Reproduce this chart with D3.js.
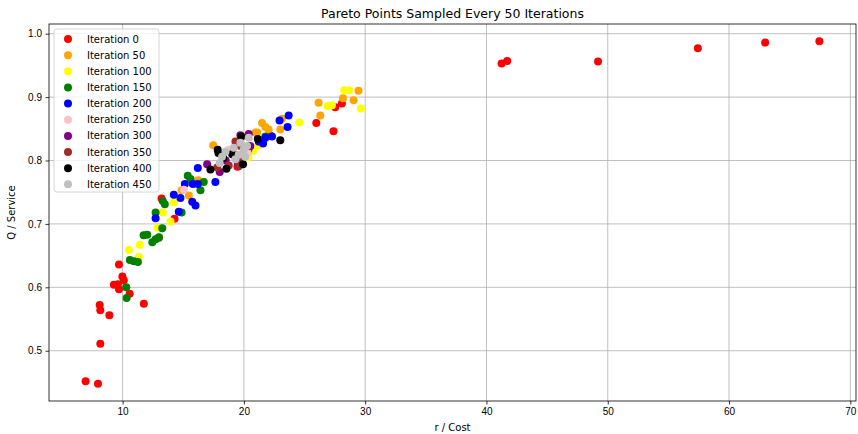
<!DOCTYPE html>
<html>
<head>
<meta charset="utf-8">
<script src="https://cdn.jsdelivr.net/npm/d3@7"></script>
<style>
	html, body { margin: 0; padding: 0; background: #fff; }
	svg { display: block; font-family: "DejaVu Sans", sans-serif; }
	.grid line { stroke: #b0b0b0; stroke-width: 0.8; }
	.axis text { font-size: 10px; fill: #000; }
	.axis line { stroke: #000; stroke-width: 0.8; }
	.axis path { display: none; }
</style>
</head>
<body>
<svg id="chart-1" width="858" height="434"></svg>
<script>
// Pareto points (cost, service) sampled every 50 iterations
const iterations = ['Iteration 0','Iteration 50','Iteration 100','Iteration 150','Iteration 200',
	'Iteration 250','Iteration 300','Iteration 350','Iteration 400','Iteration 450'];

const iter0 = [
	[6.95,0.452],[7.97,0.448],[8.16,0.511],[8.91,0.556],[8.11,0.572],[8.16,0.564],[11.75,0.574],
	[10.58,0.590],[9.70,0.636],[9.98,0.617],[10.10,0.611],[9.28,0.604],[9.61,0.605],[9.70,0.597],
	[12.99,0.678],[14.28,0.708],[13.21,0.740],[19.47,0.790],[20.37,0.814],[22.18,0.839],
	[25.97,0.859],[27.39,0.846],[27.53,0.884],[28.08,0.890],
	[41.25,0.953],[41.71,0.957],[49.20,0.956],[57.43,0.977],[62.98,0.986],[67.45,0.988]
];
const iter50 = [
	[14.86,0.753],[15.46,0.745],[16.23,0.769],[17.47,0.824],[20.95,0.844],[21.09,0.844],
	[21.50,0.859],[21.77,0.853],[22.04,0.849],[23.00,0.849],[23.14,0.866],
	[26.16,0.891],[26.30,0.871],[28.17,0.898],[29.04,0.895],[29.45,0.910]
];
const iter100 = [
	[10.52,0.659],[11.42,0.667],[11.34,0.648],[12.90,0.694],[13.32,0.718],[13.95,0.704],[14.22,0.734],
	[20.37,0.805],[20.76,0.815],[21.19,0.824],[24.57,0.860],[26.90,0.886],[27.26,0.887],
	[28.27,0.911],[28.68,0.911],[29.65,0.882]
];
const iter150 = [
	[10.30,0.600],[10.33,0.583],[10.60,0.643],[10.93,0.641],[11.26,0.640],[11.73,0.682],[12.03,0.683],
	[12.45,0.671],[12.72,0.676],[13.00,0.679],[13.27,0.693],[12.72,0.718],[13.31,0.736],[13.48,0.731],
	[14.86,0.718],[15.37,0.776],[15.60,0.771],[16.42,0.753],[16.69,0.766],[20.37,0.817],[21.77,0.838]
];
const iter200 = [
	[12.72,0.709],[14.63,0.719],[14.22,0.746],[14.77,0.741],[15.13,0.763],[15.79,0.763],[16.20,0.763],
	[15.74,0.735],[16.01,0.729],[16.20,0.788],[17.65,0.766],
	[21.22,0.830],[21.58,0.827],[21.77,0.836],[22.32,0.838],[22.94,0.863],[23.60,0.853],[23.69,0.871]
];
const iter250 = [[15.05,0.754],[18.72,0.817],[19.71,0.830],[20.30,0.812]];
const iter300 = [[16.97,0.794],[18.01,0.782],[18.50,0.800],[19.50,0.795],[19.71,0.840],[20.40,0.842],[20.53,0.823]];
const iter350 = [[17.80,0.789],[18.75,0.792],[19.10,0.812],[19.57,0.791],[19.71,0.804],[19.30,0.830],[19.71,0.823]];
const iter400 = [
	[17.24,0.786],[17.84,0.817],[18.29,0.804],[18.56,0.787],[19.03,0.810],[19.79,0.838],
	[19.93,0.794],[21.14,0.834],[23.00,0.832],[17.90,0.812]
];
const iter450 = [
	[18.00,0.796],[18.48,0.814],[19.16,0.820],[19.30,0.802],[19.57,0.809],[19.71,0.828],
	[19.98,0.817],[20.26,0.823],[20.40,0.836],[18.20,0.806],[20.10,0.806]
];
const seriesData = [iter0, iter50, iter100, iter150, iter200, iter250, iter300, iter350, iter400, iter450];

const xTicks = [10, 20, 30, 40, 50, 60, 70];
const yTicks = [0.5, 0.6, 0.7, 0.8, 0.9, 1.0];

// matplotlib named colours
const colors = ['red','orange','yellow','green','blue','pink','purple','brown','black','silver'];

const width = 858, height = 434;
const margin = {top: 24, right: 2, bottom: 33, left: 49};
const innerW = width - margin.left - margin.right;
const innerH = height - margin.top - margin.bottom;

const svg = d3.select('svg#chart-1');

const x = d3.scaleLinear().domain([3.93, 70.47]).range([0, innerW]);
const y = d3.scaleLinear().domain([0.4207, 1.0153]).range([innerH, 0]);

const g = svg.append('g').attr('transform', `translate(${margin.left},${margin.top})`);

// grid
g.append('g').attr('class','grid')
	.selectAll('line.v').data(xTicks).enter().append('line')
		.attr('x1', d => x(d)).attr('x2', d => x(d))
		.attr('y1', 0).attr('y2', innerH);
g.select('.grid')
	.selectAll('line.h').data(yTicks).enter().append('line')
		.attr('x1', 0).attr('x2', innerW)
		.attr('y1', d => y(d)).attr('y2', d => y(d));

// points, drawn in iteration order
seriesData.forEach((pts, i) => {
	g.append('g')
		.selectAll('circle').data(pts).enter().append('circle')
			.attr('cx', d => x(d[0]))
			.attr('cy', d => y(d[1]))
			.attr('r', 4)
			.attr('fill', colors[i]);
});

// axes
g.append('g').attr('class','axis')
	.attr('transform', `translate(0,${innerH})`)
	.call(d3.axisBottom(x).tickValues(xTicks).tickSize(3.5).tickPadding(3.5).tickFormat(d3.format('d')));
g.append('g').attr('class','axis')
	.call(d3.axisLeft(y).tickValues(yTicks).tickSize(3.5).tickPadding(3.5).tickFormat(d3.format('.1f')));

// frame
g.append('rect')
	.attr('width', innerW).attr('height', innerH)
	.attr('fill', 'none').attr('stroke', '#000').attr('stroke-width', 0.8);

// title + labels
svg.append('text')
	.attr('x', margin.left + innerW/2).attr('y', 18)
	.attr('text-anchor','middle').attr('font-size', 12.5)
	.text('Pareto Points Sampled Every 50 Iterations');
svg.append('text')
	.attr('x', margin.left + innerW/2).attr('y', 431)
	.attr('text-anchor','middle').attr('font-size', 10)
	.text('r / Cost');
svg.append('text')
	.attr('transform', `translate(15,${margin.top + innerH/2}) rotate(-90)`)
	.attr('text-anchor','middle').attr('font-size', 10)
	.text('Q / Service');

// legend
const legendG = g.append('g').attr('transform', 'translate(5,5)');
legendG.append('rect')
	.attr('width', 105).attr('height', 163)
	.attr('rx', 3)
	.attr('fill', '#fff').attr('fill-opacity', 0.8)
	.attr('stroke', '#cccccc').attr('stroke-width', 0.8);
const items = legendG.selectAll('g.item').data(iterations).enter().append('g')
	.attr('class','item')
	.attr('transform', (d,i) => `translate(0,${10 + i*16.15})`);
items.append('circle')
	.attr('cx', 14).attr('r', 4)
	.attr('fill', (d,i) => colors[i]);
items.append('text')
	.attr('x', 33).attr('dy', '0.35em')
	.attr('font-size', 10)
	.text(d => d);
</script>
</body>
</html>
